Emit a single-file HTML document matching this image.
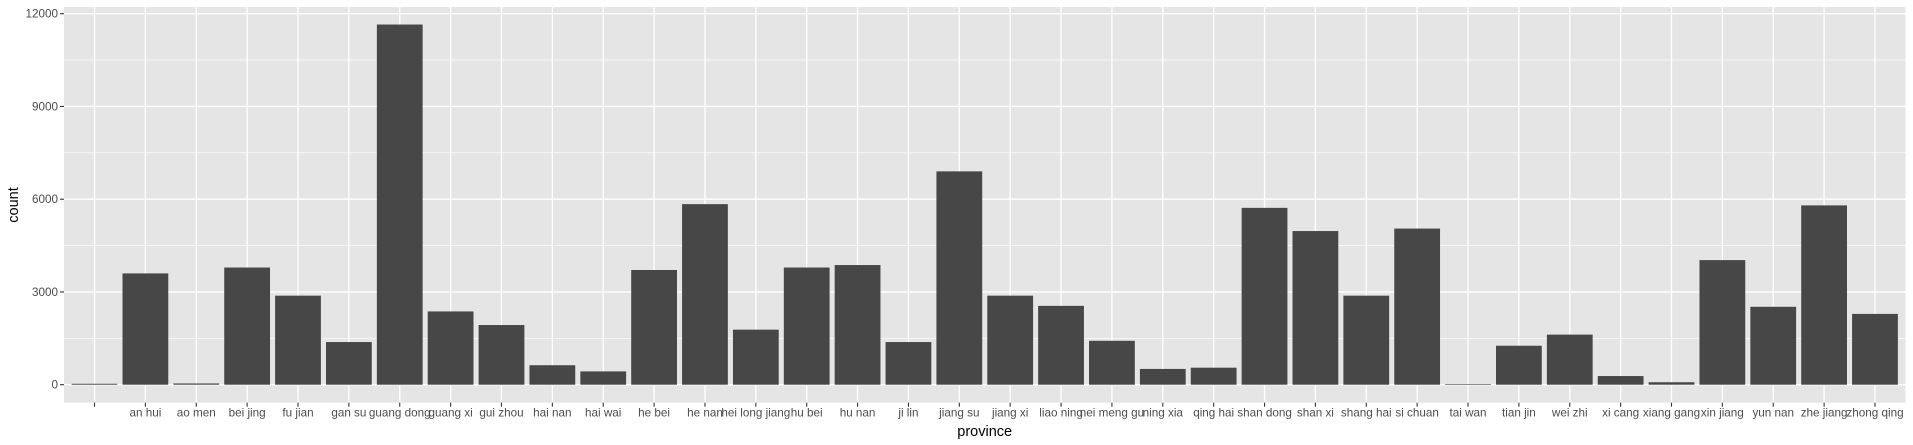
<!DOCTYPE html>
<html><head><meta charset="utf-8"><style>
html,body{margin:0;padding:0;background:#fff;}
svg{display:block;font-family:"Liberation Sans",Arial,sans-serif;}
</style></head><body>
<svg id="chart" width="1913" height="445">
<rect x="64" y="7" width="1841.5" height="395.7" fill="#e5e5e5"/>
<g id="grid"></g><g id="bars"></g><g id="axes"></g>
<text transform="translate(18,205) rotate(-90)" text-anchor="middle" font-size="14.5" fill="#000">count</text>
<text x="984.7" y="436" text-anchor="middle" font-size="14.5" fill="#000">province</text>
</svg>
<script>
const categories=["","an hui","ao men","bei jing","fu jian","gan su","guang dong","guang xi","gui zhou","hai nan","hai wai","he bei","he nan","hei long jiang","hu bei","hu nan","ji lin","jiang su","jiang xi","liao ning","nei meng gu","ning xia","qing hai","shan dong","shan xi","shang hai","si chuan","tai wan","tian jin","wei zhi","xi cang","xiang gang","xin jiang","yun nan","zhe jiang","zhong qing"];
const counts=[30,3600,40,3790,2880,1380,11650,2370,1930,630,430,3710,5840,1780,3790,3870,1380,6900,2880,2550,1420,510,550,5720,4970,2880,5050,20,1260,1620,280,80,4030,2520,5800,2290];
const yTicks=[0,3000,6000,9000,12000];
const yMinor=[1500,4500,7500,10500];
const NS="http://www.w3.org/2000/svg";
const pL=64,pR=1905.5,pT=7,pB=402.7;
const step=(pR-pL)/(categories.length-1+1.2);
function x(i){return pL+step*(i+0.6);}
function y(v){return 384.7-v*(371/12000);}
function mk(tag,attrs,parent){const e=document.createElementNS(NS,tag);for(const k in attrs)e.setAttribute(k,attrs[k]);parent.appendChild(e);return e;}
const grid=document.getElementById('grid'),bars=document.getElementById('bars'),axes=document.getElementById('axes');
yMinor.forEach(v=>{const l=mk('line',{x1:pL,x2:pR,y1:y(v),y2:y(v),stroke:'#fff','stroke-width':0.6},grid);

});
yTicks.forEach(v=>{const l=mk('line',{x1:pL,x2:pR,y1:y(v),y2:y(v),stroke:'#fff','stroke-width':1.3},grid);


const t=mk('line',{x1:pL-4,x2:pL,y1:y(v),y2:y(v),stroke:'#333','stroke-width':1.1},axes);


const tx=mk('text',{x:pL-6,y:y(v)+4,'text-anchor':'end','font-size':11.7,fill:'#4d4d4d'},axes);tx.textContent=v;

});
categories.forEach((c,i)=>{const cx=x(i);
const g=mk('line',{x1:cx,x2:cx,y1:pT,y2:pB,stroke:'#fff','stroke-width':1.3},grid);


const w=step*0.9;const top=y(counts[i]);
const r=mk('rect',{x:cx-w/2,y:Math.min(top,y(0)),width:w,height:Math.max(Math.abs(y(0)-top),0.5),fill:'#474747'},bars);


const t=mk('line',{x1:cx,x2:cx,y1:pB,y2:pB+4,stroke:'#333','stroke-width':1.1},axes);


const tx=mk('text',{x:cx,y:416.7,'text-anchor':'middle','font-size':11.7,fill:'#4d4d4d'},axes);tx.textContent=c;

});
</script>
</body></html>
